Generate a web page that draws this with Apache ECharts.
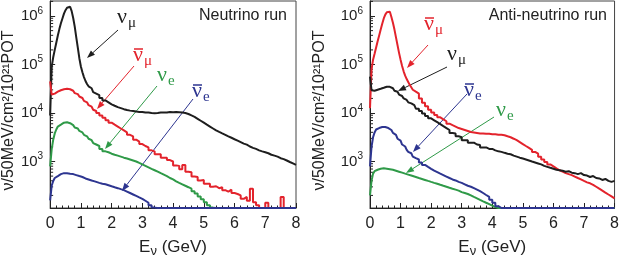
<!DOCTYPE html>
<html>
<head>
<meta charset="utf-8">
<script src="https://cdn.jsdelivr.net/npm/echarts@6/dist/echarts.min.js"></script>
<style>html,body{margin:0;padding:0;background:#fff}#c{width:622px;height:263px}</style>
</head>
<body>
<div id="c"></div>
<script>
// ---- data (flux per 50 MeV / cm^2 / 1e21 POT) ----
// bin lower edges in GeV: 50 MeV bins up to 1.5 GeV, then 0.1 GeV bins
const energyBins = [0,0.05,0.1,0.15,0.2,0.25,0.3,0.35,0.4,0.45,
  0.5,0.55,0.6,0.65,0.7,0.75,0.8,0.85,0.9,0.95,
  1,1.05,1.1,1.15,1.2,1.25,1.3,1.35,1.4,1.45,
  1.5,1.6,1.7,1.8,1.9,
  2,2.1,2.2,2.3,2.4,2.5,2.6,2.7,2.8,2.9,
  3,3.1,3.2,3.3,3.4,3.5,3.6,3.7,3.8,3.9,
  4,4.1,4.2,4.3,4.4,4.5,4.6,4.7,4.8,4.9,
  5,5.1,5.2,5.3,5.4,5.5,5.6,5.7,5.8,5.9,
  6,6.1,6.2,6.3,6.4,6.5,6.6,6.7,6.8,6.9,
  7,7.1,7.2,7.3,7.4,7.5,7.6,7.7,7.8,7.9];
const xTickLabels = ['0','1','2','3','4','5','6','7','8'];

// Neutrino run
const nuRunNumu = [8910,89100,141000,200000,282000,398000,537000,708000,891000,1120000,
  1320000,1480000,1550000,1450000,1260000,912000,603000,363000,224000,135000,
  91200,69200,55000,45700,39800,35500,32400,29500,26900,25100,
  23400,20400,18200,16600,15100,
  14100,13200,12600,12000,11500,11200,11000,10700,10500,10500,
  10200,10200,10000,9900,10000,10200,10300,10200,10500,10400,
  10500,10400,10200,10000,9550,8910,8320,7590,6920,6310,
  5750,5250,4790,4370,4070,3800,3550,3310,3090,2880,
  2690,2510,2340,2230,2040,1910,1820,1700,1620,1550,
  1480,1380,1320,1260,1170,1120,1050,977,912,851];
const nuRunNumubar = [44700,24000,25100,26300,27500,28800,29500,30200,30900,31600,
  31600,31600,30900,30200,28800,27500,25700,24500,22900,21900,
  20400,19100,17800,16600,15500,14500,13500,12600,11700,11000,
  10000,8910,7940,7080,6310,
  5750,5250,4790,4370,3980,3550,3310,2820,2570,2290,
  2090,1950,1700,1620,1410,1410,1200,1200,1070,1000,
  832,813,692,851,617,603,490,479,407,417,
  347,347,302,309,282,295,257,240,263,224,
  214,200,170,186,155,275,145,126,0,0,
  141,0,0,0,0,186,0,0,0,0];
const nuRunNue = [794,1780,2820,3800,4570,5250,5750,6170,6310,6460,
  6460,6310,6170,5890,5620,5370,5010,4790,4470,4270,
  3980,3800,3550,3310,3090,2950,2750,2570,2400,2240,
  2090,1820,1620,1550,1450,
  1380,1320,1260,1200,1150,1100,1050,1000,933,871,
  813,759,708,661,617,575,537,501,457,427,
  389,363,339,316,295,275,245,219,191,166,
  145,126,112,0,0,0,0,0,0,0,
  0,0,0,0,0,0,0,0,0,0,
  0,0,0,0,0,0,0,0,0,0];
const nuRunNuebar = [158,316,398,457,501,525,550,562,575,575,
  575,575,562,562,550,537,525,513,501,490,
  479,468,447,437,427,417,407,398,389,372,
  363,347,339,324,309,
  295,282,269,257,240,224,209,195,182,170,
  155,141,126,112,0,0,0,0,0,0,
  0,0,0,0,0,0,0,0,0,0,
  0,0,0,0,0,0,0,0,0,0,
  0,0,0,0,0,0,0,0,0,0,
  0,0,0,0,0,0,0,0,0,0];

// Anti-neutrino run
const antiRunNumubar = [12600,79400,126000,166000,224000,302000,398000,525000,692000,891000,
  1070000,1200000,1230000,1150000,955000,724000,525000,363000,251000,174000,
  126000,93300,72400,58900,50100,43700,38000,33900,30200,27500,
  25100,20000,16200,13800,11700,
  10200,9120,8130,7410,6760,6030,5620,5250,4900,4680,
  4470,4270,4070,3980,3890,3800,3800,3720,3720,3630,
  3630,3550,3550,3470,3310,3160,2950,2750,2510,2290,
  2090,1910,1740,1580,1450,1260,1100,977,871,794,
  724,661,617,575,550,525,490,457,427,398,
  372,355,331,302,275,251,229,209,191,174];
const antiRunNumu = [56200,29500,28800,29500,30200,30900,31600,32400,33100,33900,
  34700,34700,34700,33900,32400,30900,28800,27500,25700,24000,
  22400,20900,20000,18600,17400,16600,15800,15100,14500,13500,
  12300,11000,9770,8710,7760,
  7080,6460,5890,5370,4900,4470,3890,3800,3310,3160,
  2750,2750,2450,2450,2240,2190,1950,1950,1820,1820,
  1700,1620,1580,1510,1450,1410,1320,1260,1200,1150,
  1100,1050,1000,955,912,871,813,776,741,708,
  676,661,646,617,631,589,575,550,575,525,
  513,479,501,457,447,417,437,398,380,398];
const antiRunNue = [200,398,562,631,676,692,708,724,724,724,
  708,708,692,692,676,661,646,631,617,603,
  589,575,562,550,537,525,513,501,490,479,
  457,437,417,398,380,
  363,347,331,316,302,288,275,263,251,234,
  224,214,200,186,174,162,151,141,132,123,
  115,0,0,0,0,0,0,0,0,0,
  0,0,0,0,0,0,0,0,0,0,
  0,0,0,0,0,0,0,0,0,0,
  0,0,0,0,0,0,0,0,0,0];
const antiRunNuebar = [794,2000,3160,3980,4570,4900,5010,5130,5130,5130,
  5010,4900,4680,4470,4170,3890,3550,3240,2950,2690,
  2450,2240,2040,1860,1740,1580,1480,1380,1260,1170,
  1100,955,851,776,708,
  646,603,562,525,490,457,427,407,380,363,
  339,316,302,282,263,245,224,204,186,162,
  141,120,0,0,0,0,0,0,0,0,
  0,0,0,0,0,0,0,0,0,0,
  0,0,0,0,0,0,0,0,0,0,
  0,0,0,0,0,0,0,0,0,0];

const minorTickValues = [200,300,400,500,600,700,800,900,
  2000,3000,4000,5000,6000,7000,8000,9000,
  20000,30000,40000,50000,60000,70000,80000,90000,
  200000,300000,400000,500000,600000,700000,800000,900000,2000000];

// ---- layout / style ----
const X_MIN = 0, X_MAX = 8;
const Y_MIN = 110, Y_MAX = 2.04e6;
const FONT = '"Liberation Sans", Arial, Helvetica, sans-serif';
const SERIF = '"Liberation Serif", "DejaVu Serif", serif';
const COL = {numu:'#1e1e1e', numubar:'#e3232c', nue:'#2f9a48', nuebar:'#2d3590'};

function histData(vals){
  const d = energyBins.map((e,i)=>[e, Math.max(vals[i], Y_MIN)]);
  d.push([X_MAX, Math.max(vals[vals.length-1], Y_MIN)]);
  return d;
}

const panels = [
  {grid:{left:50, right:326, top:1, bottom:55}, nameGap:33, title:'Neutrino run', titleX:287,
   lines:[['numu',nuRunNumu],['numubar',nuRunNumubar],['nue',nuRunNue],['nuebar',nuRunNuebar]]},
  {grid:{left:370, right:6, top:1, bottom:55}, nameGap:42, title:'Anti-neutrino run', titleX:607,
   lines:[['numubar',antiRunNumubar],['numu',antiRunNumu],['nue',antiRunNue],['nuebar',antiRunNuebar]]}
];

const annotations = [
  {k:'numu', bar:false, sub:'μ', x:117, y:19.5, a:[118,30,87,58]},
  {k:'numubar', bar:true, sub:'μ', x:133, y:57, a:[134,66,97,109]},
  {k:'nue', bar:false, sub:'e', x:157, y:77, a:[157,86,105,149]},
  {k:'nuebar', bar:true, sub:'e', x:192, y:93, a:[193,99,122,191]},
  {k:'numubar', bar:true, sub:'μ', x:424, y:26, a:[428,45,407,68]},
  {k:'numu', bar:false, sub:'μ', x:447, y:56, a:[447,67,398,91]},
  {k:'nuebar', bar:true, sub:'e', x:464, y:92, a:[467,94,413,152]},
  {k:'nue', bar:false, sub:'e', x:496, y:112, a:[494,117,406,173]}
];

const grids = [], xAxes = [], yAxes = [], series = [], graphics = [];
panels.forEach((p, pi) => {
  grids.push(Object.assign({show:true, borderColor:'#444', borderWidth:1, backgroundColor:'transparent'}, p.grid));
  xAxes.push({
    type:'value', gridIndex:pi, min:X_MIN, max:X_MAX, interval:1,
    axisLine:{onZero:false, lineStyle:{color:'#222', width:1}},
    axisTick:{inside:true, length:5, lineStyle:{color:'#222'}},
    minorTick:{show:true, splitNumber:5, length:2.5, lineStyle:{color:'#222'}},
    splitLine:{show:false},
    axisLabel:{margin:8, fontSize:16, fontFamily:FONT, color:'#222',
      formatter:(v)=>xTickLabels[Math.round(v)]},
    name:'{a|E}{s|ν}{a| (GeV)}', nameLocation:'middle', nameGap:29,
    nameTextStyle:{rich:{
      a:{fontSize:17, fontFamily:FONT, color:'#222'},
      s:{fontSize:13, fontFamily:FONT, color:'#222', padding:[8,0,0,0]}
    }}
  });
  yAxes.push({
    type:'log', logBase:10, gridIndex:pi, min:Y_MIN, max:Y_MAX,
    axisLine:{lineStyle:{color:'#222', width:1}},
    axisTick:{inside:true, length:5, lineStyle:{color:'#222'}},
    splitLine:{show:false},
    axisLabel:{margin:7, showMinLabel:false, showMaxLabel:false,
      formatter:(v)=>'{b|10}{s|' + Math.round(Math.log10(v)) + '}',
      rich:{
        b:{fontSize:15, fontFamily:FONT, color:'#222'},
        s:{fontSize:10, fontFamily:FONT, color:'#222', padding:[0,0,10,0]}
      }},
    name:'ν/50MeV/cm\u00B2/10\u00B2\u00B9POT', nameLocation:'middle', nameGap:p.nameGap,
    nameTextStyle:{fontSize:16, fontFamily:FONT, color:'#222', padding:[0,12,0,0]}
  });
  p.lines.forEach(([k, vals]) => {
    series.push({
      type:'line', xAxisIndex:pi, yAxisIndex:pi, step:'end', symbol:'none',
      data:histData(vals), clip:true,
      lineStyle:{color:COL[k], width:2}, silent:true
    });
  });
  series.push({
    type:'custom', xAxisIndex:pi, yAxisIndex:pi, silent:true,
    data:minorTickValues.filter(v=>v>Y_MIN && v<Y_MAX).map(v=>[X_MIN, v]),
    renderItem:(params, api)=>{
      const pt = api.coord([api.value(0), api.value(1)]);
      return {type:'line', shape:{x1:pt[0], y1:pt[1], x2:pt[0]+3, y2:pt[1]},
        style:{stroke:'#222', lineWidth:1}};
    }
  });
  graphics.push({type:'text', x:p.titleX, y:15.5,
    style:{text:p.title, fontSize:16, fontFamily:FONT, fill:'#222', align:'right', verticalAlign:'middle'}});
});

function arrowEls(x1,y1,x2,y2,color){
  const ang = Math.atan2(y2-y1, x2-x1);
  const L = 8, W = 3;
  const bx = x2 - L*Math.cos(ang), by = y2 - L*Math.sin(ang);
  const px = -Math.sin(ang)*W, py = Math.cos(ang)*W;
  return [
    {type:'line', shape:{x1:x1, y1:y1, x2:bx, y2:by}, style:{stroke:color, lineWidth:1}},
    {type:'polygon', shape:{points:[[x2,y2],[bx+px,by+py],[bx-px,by-py]]}, style:{fill:color}}
  ];
}

annotations.forEach(a => {
  const c = COL[a.k];
  graphics.push({type:'text', x:a.x, y:a.y-2,
    style:{text:'ν', fontSize:22, fontFamily:SERIF, fill:c, align:'left', verticalAlign:'middle'}});
  graphics.push({type:'text', x:a.x+11, y:a.y+4,
    style:{text:a.sub, fontSize:15, fontFamily:SERIF, fill:c, align:'left', verticalAlign:'middle'}});
  if (a.bar) {
    graphics.push({type:'line', shape:{x1:a.x+1, y1:a.y-8, x2:a.x+10, y2:a.y-8}, style:{stroke:c, lineWidth:1.5}});
  }
  arrowEls(a.a[0], a.a[1], a.a[2], a.a[3], c).forEach(e => graphics.push(e));
});

const chart = echarts.init(document.getElementById('c'), null, {renderer:'canvas'});
chart.setOption({
  animation:false,
  backgroundColor:'#fff',
  grid:grids, xAxis:xAxes, yAxis:yAxes, series:series,
  graphic:graphics
});
</script>
</body>
</html>
